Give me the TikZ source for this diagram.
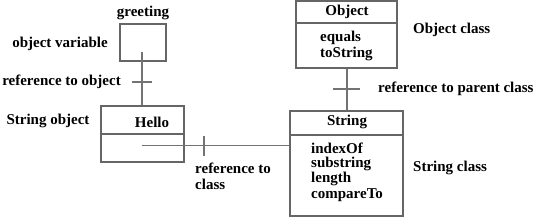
\documentclass[tikz,border=0pt]{standalone}
\usepackage{fontspec}
\setmainfont{Liberation Serif}
\begin{document}
\begin{tikzpicture}[x=1pt,y=-1pt,
  lbl/.style={font=\bfseries\fontsize{15}{17}\selectfont, inner sep=0pt},
  boxline/.style={draw=black!60, line width=1.2pt},
  conn/.style={draw=black!55, line width=1.4pt}]
\useasboundingbox (0,0) rectangle (537,218);
% greeting box
\node[boxline, minimum width=46pt, minimum height=37pt, inner sep=0pt] (greet) at (143,42.5) {};
\node[lbl] (greetlbl) at (143,13) {greeting};
\node[lbl] (objvar) at (60,44) {object variable};
% Hello box
\node[boxline, minimum width=83pt, minimum height=56pt, inner sep=0pt] (hello) at (142.5,134) {};
\draw[boxline] (hello.west |- 0,134) -- (hello.east |- 0,134);
\node[lbl] (hellotxt) at (152,122) {Hello};
\node[lbl] (strobj) at (48,121) {String object};
\coordinate (gin) at (142,52);
\draw[conn] (gin) -- (gin |- hello.north);
\coordinate (t1) at (142,82);
\draw[conn] ([xshift=-10pt]t1) -- ([xshift=10pt]t1);
\node[lbl, anchor=east] (refobj) at (121,82) {reference to object};
% Object box
\node[boxline, minimum width=101pt, minimum height=67pt, inner sep=0pt] (obj) at (346.5,34.5) {};
\draw[boxline] (obj.west |- 0,23) -- (obj.east |- 0,23);
\node[lbl] (objtxt) at (347,12) {Object};
\node[lbl, anchor=west] (eq) at (320,38) {equals};
\node[lbl, anchor=west] (ts) at (320,54) {toString};
\node[lbl, anchor=west] (objcls) at (413,30) {Object class};
% String box
\node[boxline, minimum width=113pt, minimum height=105pt, inner sep=0pt] (str) at (346.5,163.5) {};
\draw[boxline] (str.west |- 0,135) -- (str.east |- 0,135);
\node[lbl] (strtxt) at (347,122) {String};
\node[lbl, anchor=west] (m1) at (311,148) {indexOf};
\node[lbl, anchor=west] (m2) at (311,164) {substring};
\node[lbl, anchor=west] (m3) at (311,179) {length};
\node[lbl, anchor=west] (m4) at (311,195) {compareTo};
\node[lbl, anchor=west] (strcls) at (413,168) {String class};
% parent connector
\draw[conn] (obj.south -| 347,0) -- (str.north -| 347,0);
\coordinate (t2) at (347,89);
\draw[conn] ([xshift=-14pt]t2) -- ([xshift=13pt]t2);
\node[lbl, anchor=west] (refpar) at (378,89) {reference to parent class};
% class connector
\coordinate (hin) at (142,145.5);
\draw[conn] (hin) -- (str.west |- hin);
\coordinate (t3) at (204,145.5);
\draw[conn] ([yshift=-10pt]t3) -- ([yshift=10pt]t3);
\node[lbl, anchor=west, align=left] (refcls) at (195,168) {reference to};
\node[lbl, anchor=west] (refcls2) at (195,184) {class};
\end{tikzpicture}
\end{document}
